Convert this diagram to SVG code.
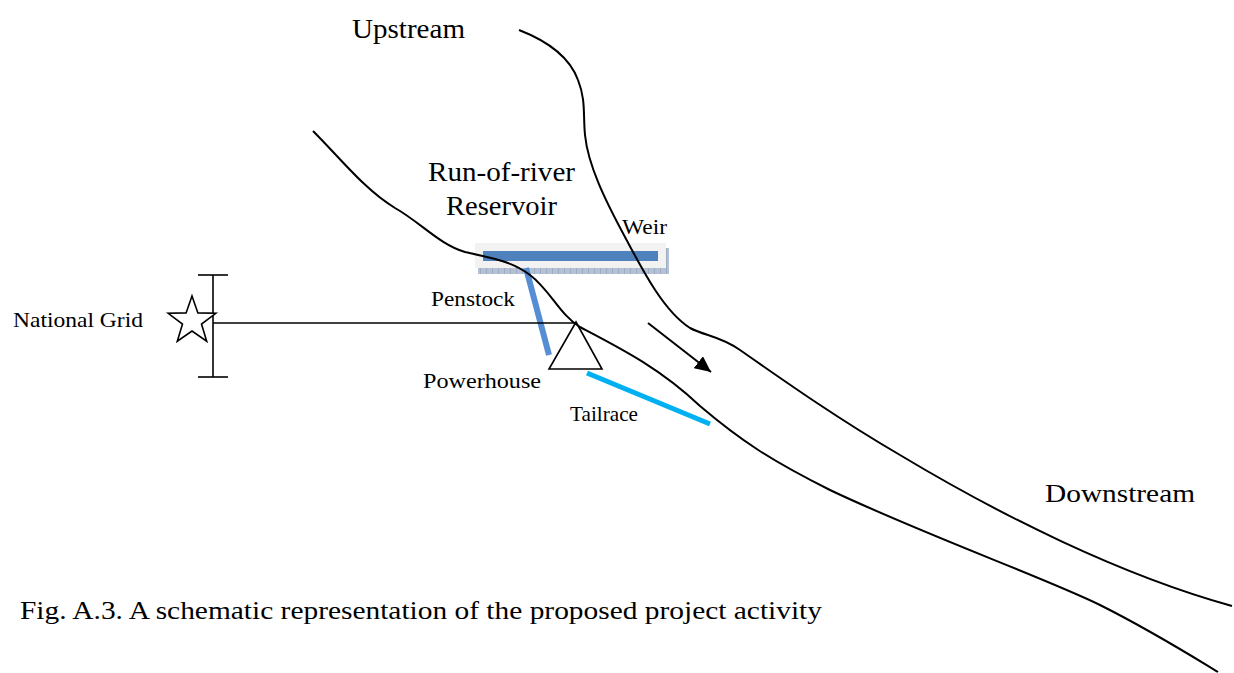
<svg xmlns="http://www.w3.org/2000/svg" width="1234" height="673" viewBox="0 0 1234 673">
<style>
text{font-family:"Liberation Serif","Times New Roman",serif;fill:#000}
.bank{fill:none;stroke:#000;stroke-width:2}
.thin{fill:none;stroke:#000;stroke-width:1.6}
</style>
<defs>
<pattern id="hatch" width="6" height="6" patternUnits="userSpaceOnUse">
<rect width="6" height="6" fill="#b4c0d4"/>
<path d="M0,0 L0,6" stroke="#8898b2" stroke-width="1"/>
</pattern>
<marker id="ah" markerUnits="userSpaceOnUse" markerWidth="17" markerHeight="15" refX="16" refY="7.5" orient="auto">
<path d="M0,0 L16,7.5 L0,15 z" fill="#000"/>
</marker>
</defs>
<rect width="1234" height="673" fill="#fff"/>

<g id="weir">
<rect x="478" y="268" width="191" height="6" fill="url(#hatch)"/>
<rect x="664" y="248" width="5" height="26" fill="url(#hatch)"/>
<rect x="475" y="243" width="191" height="25" fill="#f2f2f2"/>
<rect x="483" y="251" width="175" height="10" fill="#4f81bd"/>
</g>

<g id="penstock">
<line x1="526" y1="268" x2="549" y2="355" stroke="#558ed5" stroke-width="6"/>
</g>

<g id="tailrace">
<line x1="587" y1="373" x2="710" y2="424" stroke="#00b0f0" stroke-width="5"/>
</g>

<g id="river">
<path class="bank" d="M519,30 C550,42 570,58 578,80 C586,100 583,115 585,135 C588,165 605,200 625,237 C645,275 665,312 690,328 C705,336 720,336 740,350 C790,385 840,420 900,455 C1000,515 1120,575 1232,606"/>
<path class="bank" d="M313,131 C340,158 365,190 395,208 C420,222 440,245 465,252 C490,258 510,260 530,275 C550,290 560,315 580,327 C620,348 660,368 700,406 C740,440 770,460 830,490 C920,533 1050,580 1100,605 C1150,630 1190,655 1218,672"/>
</g>

<g id="grid-connection">
<line class="thin" x1="213" y1="323" x2="576" y2="323"/>
<line class="thin" x1="213" y1="275" x2="213" y2="377"/>
<line class="thin" x1="198" y1="275" x2="228" y2="275"/>
<line class="thin" x1="198" y1="377" x2="228" y2="377"/>
</g>

<g id="national-grid">
<polygon points="192,296 197.9,312.9 215.8,313.3 201.5,324.1 206.7,341.2 192,331 177.3,341.2 182.5,324.1 168.2,313.3 186.1,312.9" fill="#fff" stroke="#000" stroke-width="1.6" stroke-linejoin="miter"/>
<text x="13" y="327" font-size="21" textLength="130" lengthAdjust="spacingAndGlyphs">National Grid</text>
</g>

<g id="powerhouse">
<polygon points="576,322 549,369 602,369" fill="none" stroke="#000" stroke-width="1.6"/>
<text x="423" y="388" font-size="22" textLength="118" lengthAdjust="spacingAndGlyphs">Powerhouse</text>
</g>

<g id="flow">
<line x1="648" y1="323" x2="711" y2="372" stroke="#000" stroke-width="2" marker-end="url(#ah)"/>
</g>

<g id="labels">
<text x="352" y="38" font-size="28" textLength="113" lengthAdjust="spacingAndGlyphs">Upstream</text>
<text x="428" y="181" font-size="28" textLength="147" lengthAdjust="spacingAndGlyphs">Run-of-river</text>
<text x="446" y="215" font-size="28" textLength="111" lengthAdjust="spacingAndGlyphs">Reservoir</text>
<text x="622" y="234" font-size="22" textLength="45" lengthAdjust="spacingAndGlyphs">Weir</text>
<text x="431" y="306" font-size="22" textLength="84" lengthAdjust="spacingAndGlyphs">Penstock</text>
<text x="570" y="421" font-size="22" textLength="68" lengthAdjust="spacingAndGlyphs">Tailrace</text>
<text x="1045" y="502" font-size="26" textLength="150" lengthAdjust="spacingAndGlyphs">Downstream</text>
<text x="20" y="619" font-size="26" textLength="802" lengthAdjust="spacingAndGlyphs">Fig. A.3. A schematic representation of the proposed project activity</text>
</g>
</svg>
